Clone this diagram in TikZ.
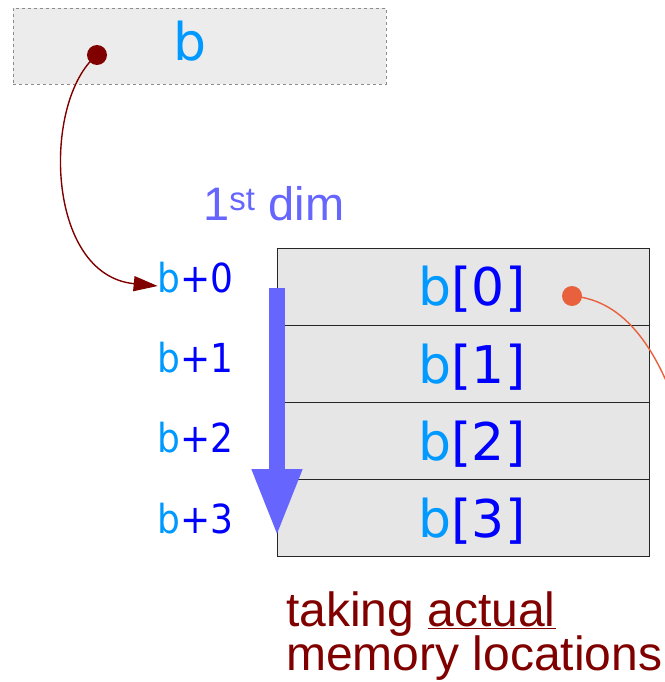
\documentclass[tikz,border=0pt]{standalone}
\usepackage{fontspec}
\setmainfont{Liberation Sans}
\newfontfamily\dvfont{DejaVu Sans}
\newfontfamily\dvnarrow[FakeStretch=0.9]{DejaVu Sans}
\usetikzlibrary{arrows.meta}
\definecolor{lb}{HTML}{0099FF}
\definecolor{db}{HTML}{0000FF}
\definecolor{dred}{HTML}{800000}
\definecolor{pv}{HTML}{6666FF}
\definecolor{org}{HTML}{E8603C}
\definecolor{cellfill}{HTML}{E6E6E6}
\definecolor{topfill}{HTML}{ECECEC}
\begin{document}
\begin{tikzpicture}[x=1pt,y=-1pt,
  cell/.style={draw=black!85, fill=cellfill, line width=0.9pt, minimum width=372pt, minimum height=77pt, inner sep=0pt, anchor=north west},
  celltext/.style={font=\dvfont\fontsize{52}{52}\selectfont, inner sep=0pt, anchor=base},
  addr/.style={font=\dvnarrow\fontsize{40}{40}\selectfont, inner sep=0pt, anchor=base east},
  dotnode/.style={circle, inner sep=0pt, minimum size=20pt},
  notetext/.style={font=\fontsize{48}{48}\selectfont, text=dred, inner sep=0pt, anchor=base west}
]
\useasboundingbox (0,0) rectangle (664,682);
% top pointer box
\node[draw=black!45, dashed, fill=topfill, line width=0.9pt, minimum width=373pt, minimum height=76pt, inner sep=0pt, anchor=north west] (topbox) at (13,8) {};
\node[celltext, text=lb] (topb) at (190,61) {b};
\node[dotnode, fill=dred] (pdot) at (97,55) {};
% label
\node[font=\fontsize{47}{47}\selectfont, text=pv, inner sep=0pt, anchor=base west] (dim) at (203,220) {1\textsuperscript{st} dim};
% cells
\node[cell] (c0) at (277,248) {};
\node[cell] (c1) at (277,325) {};
\node[cell] (c2) at (277,402) {};
\node[cell] (c3) at (277,479) {};
\node[celltext] (t0) at (472,305) {\textcolor{lb}{b}\textcolor{db}{[0]}};
\node[celltext] (t1) at (472,383) {\textcolor{lb}{b}\textcolor{db}{[1]}};
\node[celltext] (t2) at (472,460) {\textcolor{lb}{b}\textcolor{db}{[2]}};
\node[celltext] (t3) at (472,537) {\textcolor{lb}{b}\textcolor{db}{[3]}};
% address labels
\node[addr] (a0) at (234,292) {\textcolor{lb}{b}\textcolor{db}{+0}};
\node[addr] (a1) at (234,372) {\textcolor{lb}{b}\textcolor{db}{+1}};
\node[addr] (a2) at (234,452) {\textcolor{lb}{b}\textcolor{db}{+2}};
\node[addr] (a3) at (234,533) {\textcolor{lb}{b}\textcolor{db}{+3}};
% big blue arrow
\coordinate (bstart) at (277,288);
\coordinate (bend) at (277,537);
\draw[pv, line width=16pt, -{Triangle[length=68pt, width=46pt]}] (bstart) -- (bend);
% pointer curve
\draw[dred, line width=1.4pt, -{Triangle[length=24pt, width=15pt]}] (pdot.center) .. controls (42,100) and (45,275) .. ([yshift=6pt]a0.base west);
% orange pointer
\node[dotnode, fill=org] (odot) at (572,296) {};
\coordinate (oend) at (684,430);
\draw[org, line width=1.4pt] (odot.center) .. controls (625,300) and (660,350) .. (oend);
% bottom text
\node[notetext] (note) at (286,626) {taking \underline{actual}};
\node[notetext] (note2) at (286,670) {memory locations};
\end{tikzpicture}
\end{document}
